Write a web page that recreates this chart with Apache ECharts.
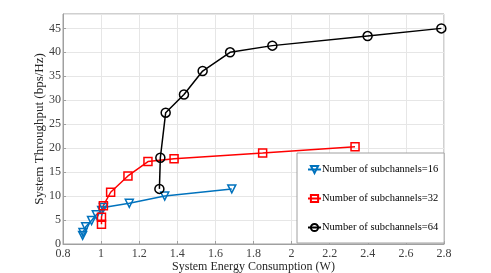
<!DOCTYPE html>
<html><head><meta charset="utf-8">
<script src="https://cdn.jsdelivr.net/npm/echarts@6/dist/echarts.min.js"></script>
<style>html,body{margin:0;padding:0;background:#fff}#c{width:491px;height:273px}</style>
</head><body><div id="c"></div>
<script>
const seriesNames = ['Number of subchannels=16','Number of subchannels=32','Number of subchannels=64'];
const sub16X = [0.903,0.905,0.919,0.950,0.975,1.003,1.012,1.148,1.334,1.686];
const sub16Y = [1.8,2.4,3.6,4.9,6.1,7.0,7.6,8.5,10.0,11.5];
const sub32X = [1.002,1.002,1.012,1.050,1.141,1.246,1.383,1.848,2.333];
const sub32Y = [4.1,5.6,8.0,10.8,14.2,17.2,17.8,19.0,20.3];
const sub64X = [1.306,1.311,1.339,1.435,1.533,1.677,1.899,2.399,2.786];
const sub64Y = [11.5,18.0,27.4,31.2,36.1,40.0,41.4,43.4,45.0];
const xTicks = [0.8,1,1.2,1.4,1.6,1.8,2,2.2,2.4,2.6,2.8];
const yTicks = [0,5,10,15,20,25,30,35,40,45];

const zip = (xs, ys) => xs.map((x, i) => [x, ys[i]]);
const font = 'Liberation Serif';
const colors = ['#0072BD', '#FF0000', '#000000'];
const symbols = ['path://M0,0 L10,0 L5,9 Z', 'rect', 'circle'];
const sizes = [8, 8, 9];
const data = [zip(sub16X, sub16Y), zip(sub32X, sub32Y), zip(sub64X, sub64Y)];

const chart = echarts.init(document.getElementById('c'), null, {renderer: 'canvas'});
chart.setOption({
  animation: false,
  grid: {left: 63, right: 47, top: 14, bottom: 29, show: true, borderColor: '#a0a0a0', borderWidth: 1,
    outerBoundsMode: 'none', containLabel: false},
  legend: {
    orient: 'vertical', left: 297, top: 153,
    padding: [11, 6, 10, 10], itemGap: 18,
    itemWidth: 13, itemHeight: 9,
    backgroundColor: '#fff', borderColor: '#a0a0a0', borderWidth: 1,
    textStyle: {fontFamily: font, fontSize: 10.5, color: '#000', padding: [0, 0, 0, -4]},
    data: seriesNames
  },
  xAxis: {
    type: 'value', min: 0.8, max: 2.8, interval: 0.2,
    name: 'System Energy Consumption (W)', nameLocation: 'middle', nameGap: 17, nameMoveOverlap: false,
    nameTextStyle: {fontFamily: font, fontSize: 12, color: '#262626'},
    axisLine: {lineStyle: {color: '#a0a0a0'}},
    axisTick: {inside: true, length: 3, lineStyle: {color: '#a0a0a0'}},
    axisLabel: {fontFamily: font, fontSize: 12, color: '#404040', margin: 4,
      formatter: v => String(+v.toFixed(1))},
    splitLine: {lineStyle: {color: '#e6e6e6'}}
  },
  yAxis: {
    type: 'value', min: 0, max: 48, interval: 5,
    name: 'System Throughput (bps/Hz)', nameLocation: 'middle', nameGap: 17, nameMoveOverlap: false,
    nameTextStyle: {fontFamily: font, fontSize: 13, color: '#262626'},
    axisLine: {lineStyle: {color: '#a0a0a0'}},
    axisTick: {inside: true, length: 3, lineStyle: {color: '#a0a0a0'}},
    axisLabel: {fontFamily: font, fontSize: 12, color: '#404040', margin: 2, showMaxLabel: false,
      formatter: v => yTicks.includes(v) ? String(v) : ''},
    splitLine: {lineStyle: {color: '#e6e6e6'}}
  },
  series: seriesNames.map((n, i) => ({
    name: n, type: 'line', data: data[i],
    symbol: symbols[i], symbolSize: sizes[i], showAllSymbol: true,
    lineStyle: {color: colors[i], width: 1.5},
    itemStyle: {color: 'rgba(255,255,255,0)', borderColor: colors[i], borderWidth: 1.5},
    emphasis: {disabled: true}
  }))
});
</script></body></html>
